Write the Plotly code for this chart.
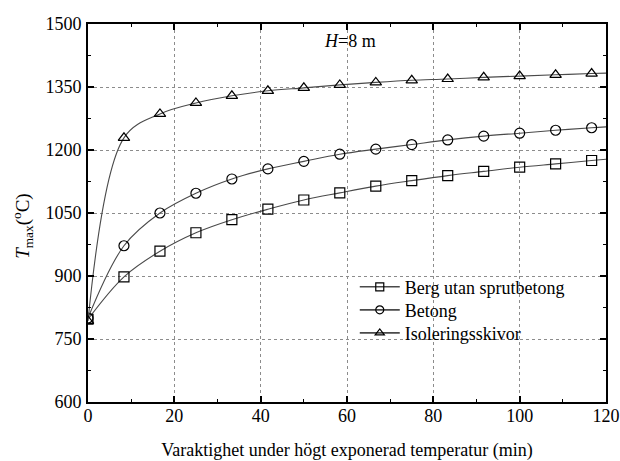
import plotly.graph_objects as go

# Time after exposure start (min); markers every 1/12 of 100 min
t_marked = [0, 8.33, 16.67, 25, 33.33, 41.67, 50, 58.33, 66.67, 75, 83.33, 91.67, 100, 108.33, 116.67]
t_end = 120

# Maximum temperature (degC) for each lining type
berg = [797, 898, 959, 1003, 1034, 1059, 1081, 1098, 1114, 1127, 1139, 1149, 1159, 1167, 1175]
berg_end = 1178
betong = [800, 972, 1050, 1097, 1131, 1155, 1173, 1190, 1202, 1213, 1224, 1233, 1240, 1247, 1253]
betong_end = 1255
isol = [793, 1229, 1286, 1312, 1329, 1341, 1348, 1355, 1361, 1366, 1369, 1373, 1376, 1379, 1382]
isol_end = 1383

series = [
    ("Berg utan sprutbetong", berg, berg_end, "square-open"),
    ("Betong", betong, betong_end, "circle-open"),
    ("Isoleringsskivor", isol, isol_end, "triangle-up-open"),
]

x_ticks = [0, 20, 40, 60, 80, 100, 120]
y_ticks = [600, 750, 900, 1050, 1200, 1350, 1500]

FONT = "Liberation Serif"
LINE_COLOR = "#4a4a4a"
legend_ids = ["legend", "legend2", "legend3"]
legend_rows = [0.304, 0.243, 0.182]

fig = go.Figure()
for (name, vals, end_val, sym), lid in zip(series, legend_ids):
    # smooth curve through all samples, running to the end of the axis
    fig.add_trace(go.Scatter(
        x=t_marked + [t_end], y=vals + [end_val], mode="lines",
        line=dict(color=LINE_COLOR, width=1.1, shape="spline", smoothing=1.0),
        showlegend=False, hoverinfo="skip",
    ))
    # open markers on top of the curve
    fig.add_trace(go.Scatter(
        x=t_marked, y=vals, mode="markers",
        marker=dict(symbol=sym, size=10, color="black", line=dict(color="black", width=1.2)),
        showlegend=False,
    ))
    # legend entry showing line with marker
    fig.add_trace(go.Scatter(
        x=[None], y=[None], mode="lines+markers", name=name, legend=lid,
        line=dict(color=LINE_COLOR, width=1.6),
        marker=dict(symbol=sym, size=8, color="black", line=dict(color="black", width=1.2)),
    ))

axis_common = dict(
    showline=True, linecolor="black", linewidth=2, mirror="ticks",
    ticks="inside", ticklen=6, tickwidth=1.5, tickcolor="black",
    showgrid=True, gridcolor="#8c8c8c", gridwidth=1, griddash="dot",
    zeroline=False, automargin=False,
    tickfont=dict(family=FONT, size=18, color="black"),
)

fig.update_xaxes(
    range=[0, 120], tickvals=x_ticks, ticktext=[str(v) for v in x_ticks],
    minor=dict(ticks="inside", ticklen=3, tickwidth=1, tickcolor="black", dtick=10, tick0=0, showgrid=False),
    title=dict(text="Varaktighet under högt exponerad temperatur (min)",
               font=dict(family=FONT, size=18, color="black"), standoff=20),
    ticklabelstandoff=-4,
    **axis_common,
)
fig.update_yaxes(
    range=[600, 1500], tickvals=y_ticks, ticktext=[str(v) for v in y_ticks],
    minor=dict(ticks="inside", ticklen=3, tickwidth=1, tickcolor="black", dtick=75, tick0=600, showgrid=False),
    ticklabelstandoff=1,
    **axis_common,
)

# y-axis label: T_max (°C)
fig.add_annotation(
    x=-0.1255, y=0.466, xref="paper", yref="paper", textangle=-90,
    xanchor="center", yanchor="middle",
    text="<i>T</i><sub>max</sub>(<sup>o</sup>C)", showarrow=False,
    font=dict(family=FONT, size=19, color="black"),
)

fig.add_annotation(
    x=0.505, y=0.955, xref="paper", yref="paper",
    xanchor="center", yanchor="middle",
    text="<i>H</i>=8 m", showarrow=False,
    font=dict(family=FONT, size=18, color="black"),
)

legend_style = dict(
    x=0.515, xanchor="left", yanchor="middle",
    bgcolor="rgba(0,0,0,0)", borderwidth=0,
    font=dict(family=FONT, size=18, color="black"),
    itemwidth=40,
)

fig.update_layout(
    width=620, height=461,
    margin=dict(l=88, r=14, t=24, b=59),
    paper_bgcolor="white", plot_bgcolor="white",
    font=dict(family=FONT, size=18, color="black"),
    legend=dict(y=legend_rows[0], **legend_style),
    legend2=dict(y=legend_rows[1], **legend_style),
    legend3=dict(y=legend_rows[2], **legend_style),
)

fig.write_html("out.html")
